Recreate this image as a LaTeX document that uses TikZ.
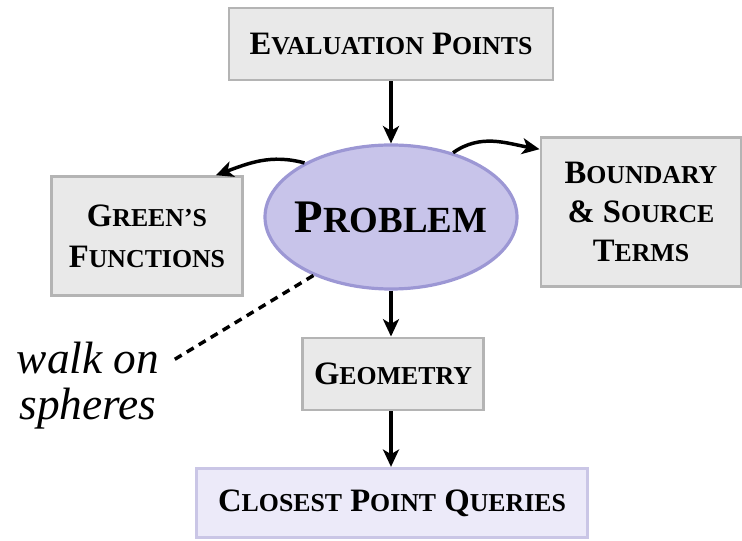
\documentclass[tikz,border=0pt]{standalone}
\usepackage{fontspec}
\setmainfont{Liberation Serif}
\usetikzlibrary{arrows.meta,shapes.geometric}

% faked small capitals: full-size initial, reduced capitals after it
\newcommand\fsc[2]{#1\scalebox{0.79}{#2}}

\definecolor{boxfill}{HTML}{E9E9E9}
\definecolor{boxline}{HTML}{B4B4B4}
\definecolor{ovalfill}{HTML}{C8C4EA}
\definecolor{ovalline}{HTML}{9C97D4}
\definecolor{lilacfill}{HTML}{ECEAF9}
\definecolor{lilacline}{HTML}{CAC6E6}

\tikzset{
  px/.style={x=0.75pt,y=-0.75pt},
  greybox/.style={draw=boxline, line width=2.2pt, fill=boxfill, align=center,
    font=\fontsize{24.5}{31}\selectfont\bfseries, inner sep=0pt},
  lilacbox/.style={draw=lilacline, line width=2.2pt, fill=lilacfill,
    font=\fontsize{24.5}{31}\selectfont\bfseries, inner sep=0pt},
  arr/.style={line width=2.6pt, -{Stealth[length=13pt,width=12pt,inset=3.5pt]}},
}

\begin{document}
\begin{tikzpicture}[px]
\useasboundingbox (0,0) rectangle (742,541);

\node[greybox, minimum width=243pt, minimum height=54pt] (eval) at (391,44)
  {\fsc{E}{VALUATION} \fsc{P}{OINTS}};
\node[ellipse, draw=ovalline, line width=2.4pt, fill=ovalfill,
      minimum width=189pt, minimum height=108pt, inner sep=0pt,
      font=\fontsize{35}{38}\selectfont\bfseries] (prob) at (391,217)
  {\makebox[0pt]{\fsc{P}{ROBLEM}}};
\node[greybox, minimum width=143pt, minimum height=89pt] (green) at (147,236)
  {\fsc{G}{REEN'S}\\\fsc{F}{UNCTIONS}};
\node[greybox, minimum width=150pt, minimum height=112pt,
      font=\fontsize{24.5}{29.5}\selectfont\bfseries] (bound) at (641,212)
  {\fsc{B}{OUNDARY}\\\& \fsc{S}{OURCE}\\\fsc{T}{ERMS}};
\node[greybox, minimum width=136pt, minimum height=54pt] (geom) at (393,374)
  {\fsc{G}{EOMETRY}};
\node[lilacbox, minimum width=293pt, minimum height=52pt] (closest) at (392,503)
  {\fsc{C}{LOSEST} \fsc{P}{OINT} \fsc{Q}{UERIES}};

\node[align=center, font=\fontsize{34}{34.5}\selectfont\itshape] (walk) at (88,386)
  {walk on\\spheres};
\coordinate (wend) at (172,361);

\draw[arr] (eval) -- (prob);
\draw[arr] (prob.south) -- (prob.south |- geom.north);
\draw[arr] (prob.south |- geom.south) -- (prob.south |- closest.north);
\draw[arr] (prob.148) to[out=165,in=20] ([xshift=-21pt]green.north east);
\draw[arr] (prob.46) to[out=35,in=170] ([yshift=-10pt]bound.north west);
\draw[line width=2.6pt, dash pattern=on 6pt off 4.5pt] (prob.217) -- (wend);
\end{tikzpicture}
\end{document}
